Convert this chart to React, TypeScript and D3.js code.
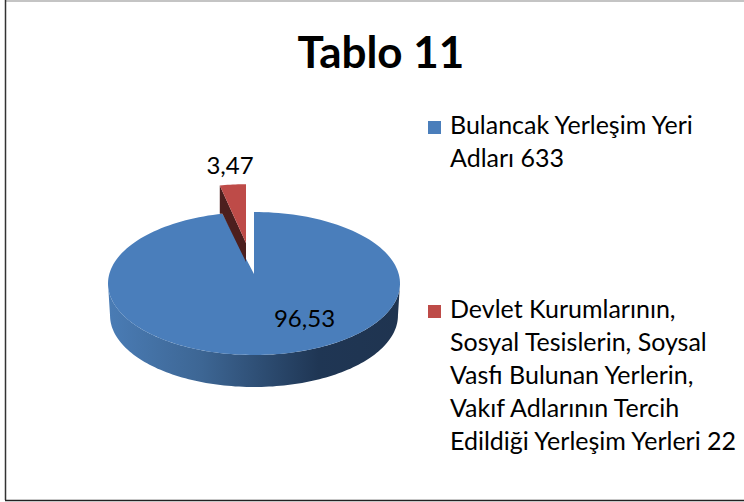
import React from "react";
import * as d3 from "d3";

const categories = ["Bulancak Yerleşim Yeri Adları 633", "Devlet Kurumlarının, Sosyal Tesislerin, Soysal Vasfı Bulunan Yerlerin, Vakıf Adlarının Tercih Edildiği Yerleşim Yerleri 22"];
const values = [96.53, 3.47];
const valueLabels = ["96,53", "3,47"];
const legendLines = [["Bulancak Yerleşim Yeri", "Adları 633"], ["Devlet Kurumlarının,", "Sosyal Tesislerin, Soysal", "Vasfı Bulunan Yerlerin,", "Vakıf Adlarının Tercih", "Edildiği Yerleşim Yerleri 22"]];
const colors = ["#4a7ebb", "#be4b48"];
const FONT = "Lato, Carlito, Calibri, sans-serif";

export default function App() {
  const cx = 254, cy = 283.5, rx = 146, ry = 71.5, depth = 32;
  const pie = d3.pie<number>().sort(null).startAngle(0).endAngle(2 * Math.PI);
  const arcs = pie(values);
  const pt = (a: number, dx = 0, dy = 0, k = 1): [number, number] => [cx + dx + k * rx * Math.sin(a), cy + dy - k * ry * Math.cos(a)];
  const line = d3.line<[number, number]>().curve(d3.curveLinear);
  const blue = arcs[0];
  const red = arcs[1];
  const sweep = d3.scaleLinear().domain([0, 1]).range([blue.startAngle, blue.endAngle]);
  const samples = d3.range(0, 181).map((i) => sweep(i / 180));
  const apex: [number, number] = [254, 274];
  const blueFace = line([apex, ...samples.map((a) => pt(a))]) + "Z";
  const lower = d3.range(0, 121).map((i) => Math.PI / 2 + (Math.PI * i) / 120);
  const wall = line([...lower.map((a) => pt(a)), ...lower.slice().reverse().map((a) => { const p = pt(a, 0, depth); return [cx + (p[0] - cx) * 0.986, p[1]] as [number, number]; })]) + "Z";
  // exploded slice, drawn smaller as in the reference's perspective
  const offX = -8, offY = -40, k = 0.83;
  const rimSamples = d3.range(0, 11).map((i) => red.startAngle + ((red.endAngle - red.startAngle) * i) / 10);
  const redApex: [number, number] = [246, 243];
  const redFace = line([redApex, ...rimSamples.map((a) => pt(a, offX, offY, k))]) + "Z";
  const leftRim = pt(red.startAngle, offX, offY, k);
  const rimOnPie = pt(red.startAngle);
  const redWall = line([
    leftRim,
    redApex,
    [246, 262],
    rimOnPie,
    [leftRim[0], rimOnPie[1]],
  ]) + "Z";

  return (
    <svg width={744} height={502} style={{ position: "absolute", left: 0, top: 0 }}>
      <defs>
        <linearGradient id="wallGrad" gradientUnits="userSpaceOnUse" x1={108} x2={400} y1={0} y2={0}>
          <stop offset="0" stopColor="#4a7cb5" />
          <stop offset="0.32" stopColor="#3d6694" />
          <stop offset="0.72" stopColor="#1f3654" />
          <stop offset="1" stopColor="#1f3450" />
        </linearGradient>
      </defs>
      <rect x={0} y={0} width={744} height={502} fill="#fff" />
      <line x1={5} y1={1} x2={744} y2={1} stroke="#b0b0b0" strokeWidth={1.5} />
      <line x1={5.5} y1={0} x2={5.5} y2={500} stroke="#333" strokeWidth={1.5} />
      <line x1={5} y1={500.5} x2={744} y2={500.5} stroke="#222" strokeWidth={1.5} />
      <text x={381} y={68} textAnchor="middle" fontFamily={FONT} fontWeight={700} fontSize={44} fill="#000">Tablo 11</text>

      <path d={wall} fill="url(#wallGrad)" />
      <path d={blueFace} fill={colors[0]} />
      <path d={redWall} fill="#4d1f1e" />
      <path d={redFace} fill={colors[1]} />

      <text x={304.5} y={327} textAnchor="middle" fontFamily={FONT} fontSize={24} fill="#000">{valueLabels[0]}</text>
      <text x={230} y={174} textAnchor="middle" fontFamily={FONT} fontSize={24} fill="#000">{valueLabels[1]}</text>

      {categories.map((c, i) => {
        const y0 = i === 0 ? 134 : 318;
        return (
          <g key={c}>
            <rect x={428} y={y0 - 13} width={13} height={13} fill={colors[i]} />
            {legendLines[i].map((l, j) => (
              <text key={l} x={450} y={y0 + j * 33} fontFamily={FONT} fontSize={25} fill="#000">{l}</text>
            ))}
          </g>
        );
      })}
    </svg>
  );
}
